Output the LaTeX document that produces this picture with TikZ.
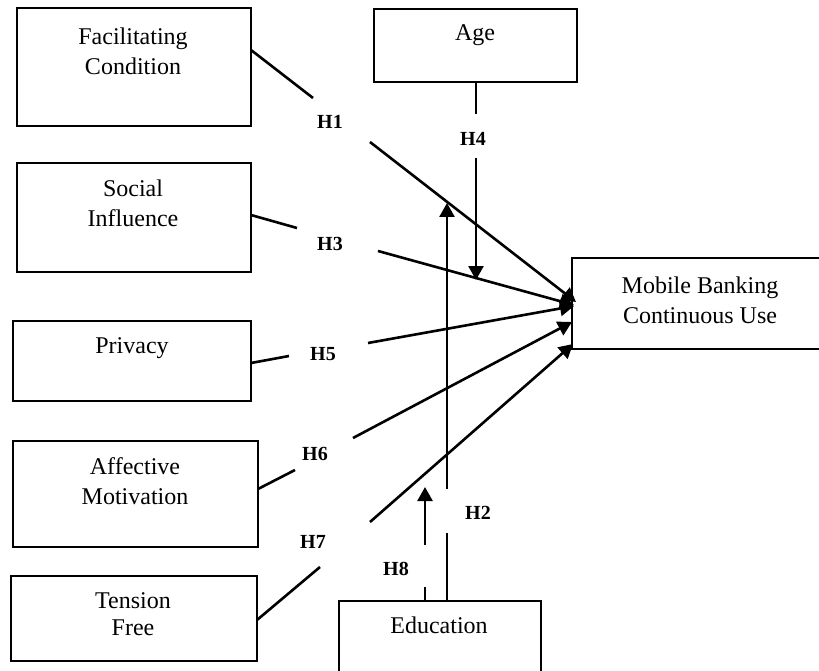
\documentclass[tikz,border=0pt]{standalone}
\usepackage{fontspec}
\setmainfont{Liberation Serif}
\usetikzlibrary{arrows.meta}
\begin{document}
\begin{tikzpicture}[x=1pt,y=-1pt,
  box/.style={draw, line width=2.8pt, inner sep=0pt},
  txt/.style={align=center, font=\fontsize{24}{30}\selectfont, inner sep=0pt},
  hyp/.style={font=\bfseries\fontsize{20}{24}\selectfont, inner sep=0pt},
  link/.style={line width=2.6pt},
  arr/.style={link, -{Triangle[length=14pt,width=15pt]}}]
\useasboundingbox (0,0) rectangle (819,671);
\clip (0,0) rectangle (819,671);
% boxes
\node[box, minimum width=234pt, minimum height=118pt] (fc) at (134,67) {};
\node[box, minimum width=234pt, minimum height=109pt] (si) at (134,217.5) {};
\node[box, minimum width=238pt, minimum height=80pt] (pr) at (132,361) {};
\node[box, minimum width=245pt, minimum height=106pt] (am) at (135.5,494) {};
\node[box, minimum width=246pt, minimum height=85pt] (tf) at (134,618.5) {};
\node[box, minimum width=203pt, minimum height=73pt] (age) at (475.5,45.5) {};
\node[box, minimum width=268pt, minimum height=91pt] (mb) at (706,303.5) {};
\node[box, minimum width=202pt, minimum height=99pt] (ed) at (440,650.5) {};
% texts
\node[txt] (fct) at (133,51) {Facilitating\\Condition};
\node[txt] (sit) at (133,203) {Social\\Influence};
\node[txt] (prt) at (132,348) {Privacy};
\node[txt] (amt) at (135,481) {Affective\\Motivation};
\node[txt, font=\fontsize{24}{27}\selectfont] (tft) at (133,614) {Tension\\Free};
\node[txt] (aget) at (475,35) {Age};
\node[txt] (mbt) at (700,300) {Mobile Banking\\Continuous Use};
\node[txt] (edt) at (439,625) {Education};
% hypothesis labels
\node[hyp] (h1) at (330,122) {H1};
\node[hyp] (h3) at (330,244) {H3};
\node[hyp] (h5) at (323,354) {H5};
\node[hyp] (h4) at (473,139) {H4};
\node[hyp] (h6) at (315,454) {H6};
\node[hyp] (h7) at (313,542) {H7};
\node[hyp] (h2) at (478,513) {H2};
\node[hyp] (h8) at (396,569) {H8};
% connector points
\coordinate (s1) at (251,50);  \coordinate (g1) at (313,98);
\coordinate (r1) at (370,142); \coordinate (t1) at (576,302);
\coordinate (s3) at (251,215); \coordinate (g3) at (297,228);
\coordinate (r3) at (378,251); \coordinate (t3) at (574,305);
\coordinate (s5) at (251,363); \coordinate (g5) at (289,356);
\coordinate (r5) at (368,343); \coordinate (t5) at (574,306);
\coordinate (s6) at (258,489); \coordinate (g6) at (295,470);
\coordinate (r6) at (353,438); \coordinate (t6) at (572,322);
\coordinate (s7) at (257,620); \coordinate (g7) at (320,567);
\coordinate (r7) at (370,522); \coordinate (t7) at (573,344);
\coordinate (s4) at (476,82);  \coordinate (g4) at (476,114);
\coordinate (r4) at (476,158); \coordinate (t4) at (476,280);
\coordinate (s2) at (447,601); \coordinate (g2) at (447,533);
\coordinate (r2) at (447,489); \coordinate (t2) at (447,203);
\coordinate (s8) at (425,601); \coordinate (g8) at (425,587);
\coordinate (r8) at (425,545); \coordinate (t8) at (425,487);
% connectors
\draw[link] (s1) -- (g1); \draw[arr] (r1) -- (t1);
\draw[link] (s3) -- (g3); \draw[arr] (r3) -- (t3);
\draw[link] (s5) -- (g5); \draw[arr] (r5) -- (t5);
\draw[link] (s6) -- (g6); \draw[arr] (r6) -- (t6);
\draw[link] (s7) -- (g7); \draw[arr] (r7) -- (t7);
\draw[link] (s4) -- (g4); \draw[arr] (r4) -- (t4);
\draw[link] (s2) -- (g2); \draw[arr] (r2) -- (t2);
\draw[link] (s8) -- (g8); \draw[arr] (r8) -- (t8);
\end{tikzpicture}
\end{document}
